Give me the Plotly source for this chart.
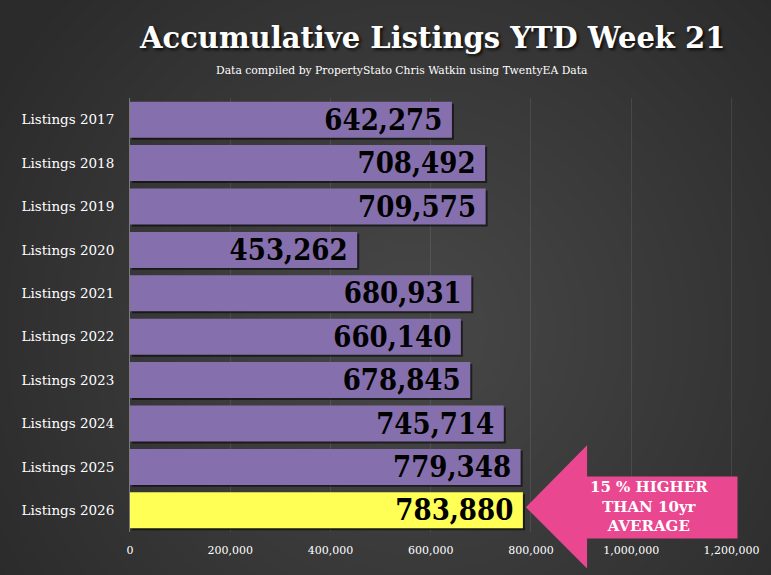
import plotly.graph_objects as go

years = ["Listings 2017", "Listings 2018", "Listings 2019", "Listings 2020", "Listings 2021",
         "Listings 2022", "Listings 2023", "Listings 2024", "Listings 2025", "Listings 2026"]
listings = [642275, 708492, 709575, 453262, 680931, 660140, 678845, 745714, 779348, 783880]
bar_colors = ["#8570AD"] * 9 + ["#FFFF55"]
x_ticks = [0, 200000, 400000, 600000, 800000, 1000000, 1200000]

fig = go.Figure()

# drop shadow behind each bar
fig.add_trace(go.Bar(
    x=listings, y=years, orientation="h", base=4000,
    width=0.83, offset=-0.37,
    marker=dict(color="rgba(0,0,0,0.55)", line=dict(width=0)),
    hoverinfo="skip",
))

fig.add_trace(go.Bar(
    x=listings,
    y=years,
    orientation="h",
    marker=dict(color=bar_colors, line=dict(width=0)),
    texttemplate="%{x:,}",
    textposition="inside",
    insidetextanchor="end",
    constraintext="none",
    textfont=dict(family="DejaVu Serif", size=29, color="black", weight="bold"),
    width=0.83,
))

# soft radial glow for the slide background (paper units: 613px wide, 434px tall)
shapes = []
n = 25
for i in range(n):
    R = 480 - i * 17
    rx, ry = R / 613, R / 434
    shapes.append(dict(type="circle", xref="paper", yref="paper", layer="below",
                       x0=0.47 - rx, x1=0.47 + rx, y0=0.465 - ry, y1=0.465 + ry,
                       fillcolor="rgba(255,255,255,0.007)", line=dict(width=0)))

# pink arrow pointing at the 2026 bar
tip = listings[-1] + 6000
head = tip + 122000
tail = 1212000
arrow = (f"M {tip},0.057 L {head},0.200 L {head},0.128 L {tail},0.128 "
         f"L {tail},-0.015 L {head},-0.015 L {head},-0.084 Z")
shapes.append(dict(type="path", xref="x", yref="paper", path=arrow,
                   fillcolor="#E94790", line=dict(width=0), layer="above"))

annotations = [
    dict(text="Accumulative Listings YTD Week 21", x=0.496, y=1.139, xref="paper", yref="paper",
         xanchor="center", yanchor="middle", showarrow=False,
         font=dict(family="DejaVu Serif", size=29, color="white", weight="bold",
                   shadow="2px 2px 3px rgba(0,0,0,0.75)")),
    dict(text="Data compiled by PropertyStato Chris Watkin using TwentyEA Data",
         x=0.447, y=1.063, xref="paper", yref="paper", xanchor="center", yanchor="middle",
         showarrow=False,
         font=dict(family="DejaVu Serif", size=10.8, color="white")),
    dict(text="15 % HIGHER<br>THAN 10yr<br>AVERAGE", x=1036000, y=0.058, xref="x", yref="paper",
         xanchor="center", yanchor="middle", showarrow=False,
         font=dict(family="DejaVu Serif", size=15, color="white", weight="bold")),
]

fig.update_layout(
    width=771, height=575,
    paper_bgcolor="#2b2b2b",
    plot_bgcolor="rgba(0,0,0,0)",
    margin=dict(l=130, r=28, t=98, b=43),
    showlegend=False,
    shapes=shapes,
    annotations=annotations,
    barmode="overlay",
    xaxis=dict(
        range=[0, 1215000],
        tickvals=x_ticks,
        tickformat=",",
        tickfont=dict(family="DejaVu Serif", size=11, color="white"),
        showgrid=True, gridcolor="rgba(255,255,255,0.09)", gridwidth=1,
        zeroline=False, showline=False, ticks="", ticklabelstandoff=10,
    ),
    yaxis=dict(
        autorange="reversed",
        tickfont=dict(family="DejaVu Serif", size=13.5, color="white"),
        showline=True, linecolor="rgba(255,255,255,0.35)", linewidth=1,
        showgrid=False, ticks="", ticklabelstandoff=12,
    ),
)

css = ("var s=document.createElement('style');"
       "s.textContent='.bartext{font-stretch:condensed;}';"
       "document.head.appendChild(s);")
fig.write_html("out.html", config={"displayModeBar": False},
               post_script="document.body.style.margin='0';" + css)
